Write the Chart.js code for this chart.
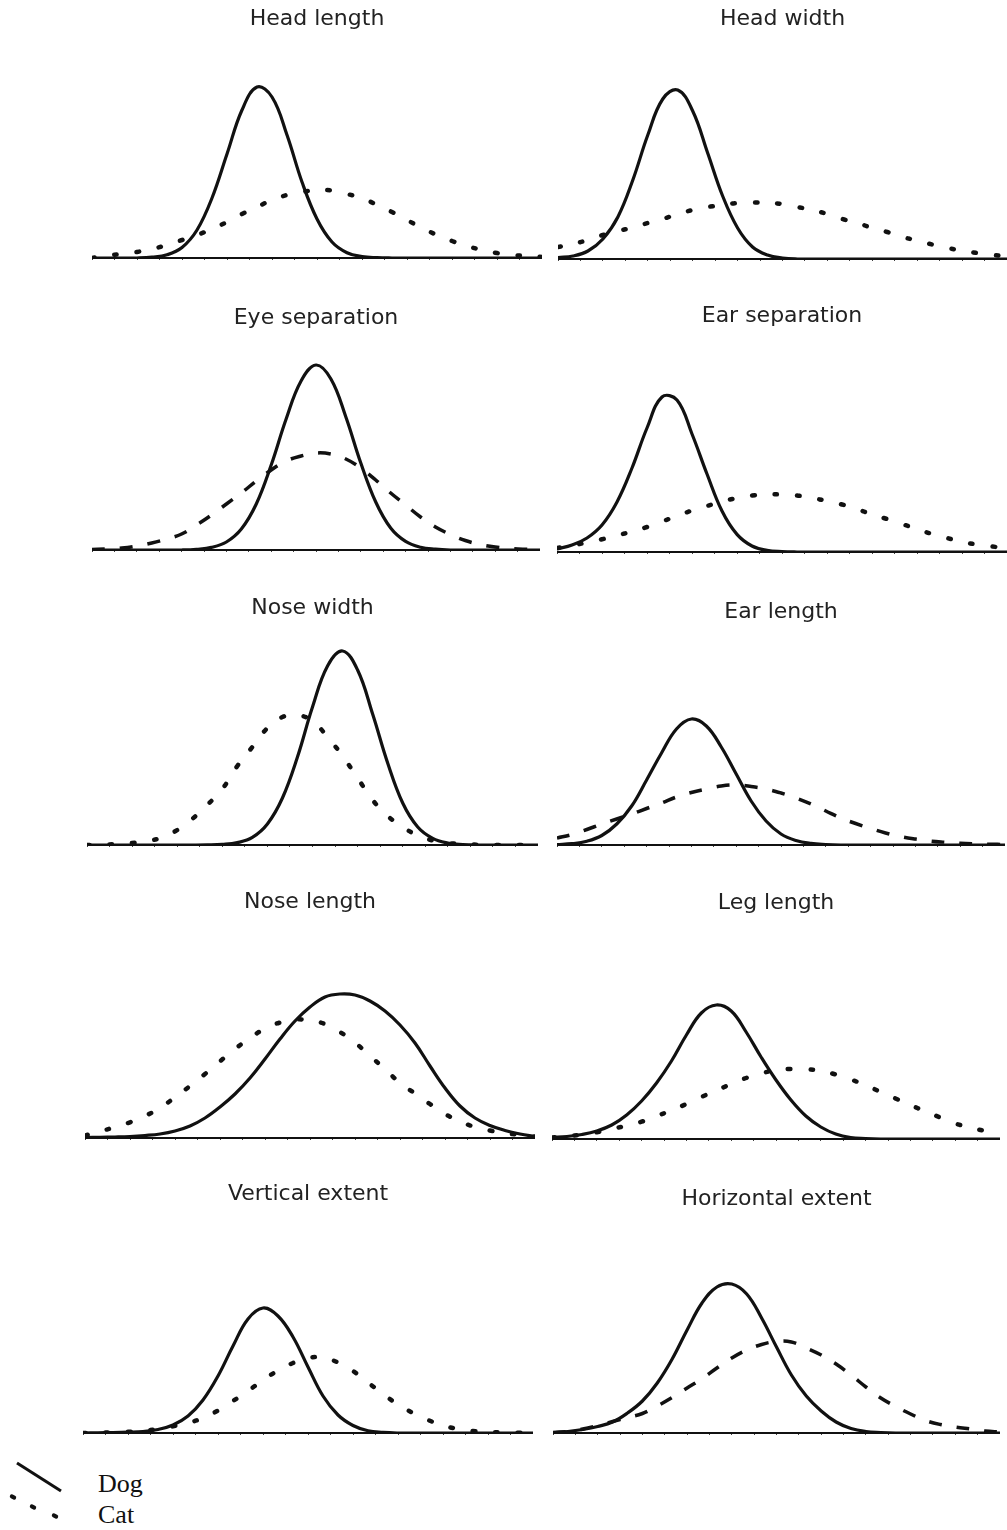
<!DOCTYPE html>
<html>
<head>
<meta charset="utf-8">
<title>Dog and cat feature distributions</title>
<script src="https://cdn.jsdelivr.net/npm/chart.js@4.4.1/dist/chart.umd.min.js"></script>
<style>
  html, body { margin: 0; padding: 0; background: #fff; }
  #page { position: relative; width: 1007px; height: 1530px; overflow: hidden; background: #fff; }
  #page canvas { position: absolute; }
  .key { position: absolute; left: 98px; font: 26px "Liberation Serif", "Times New Roman", serif; color: #111; line-height: 30px; }
</style>
</head>
<body>
<div id="page"></div>
<script>
// positions along each baseline (0 = left end, 30 = right end)
const steps = [0,1,2,3,4,5,6,7,8,9,10,11,12,13,14,15,16,17,18,19,20,21,22,23,24,25,26,27,28,29,30];

const titles = ['Head length', 'Head width', 'Eye separation', 'Ear separation', 'Nose width',
  'Ear length', 'Nose length', 'Leg length', 'Vertical extent', 'Horizontal extent'];

// curve heights, one value per step
const headLengthDog = [0,0,0,0,0.8,3.2,10.5,28,60,104,148,171,161,123,76,39,16,5.3,1.4,0.3,0,0,0,0,0,0,0,0,0,0,0];
const headLengthCat = [0,2.5,4,6,9,13,18,23,29,36,44,51,58,63,66,68,67.5,64,60,53,46,38,30,23,17,12,8,5,3,2,1];

const headWidthDog = [1.5,3,8,20,42,79,124,160,169,148,106,63,31,12,4,1,0,0,0,0,0,0,0,0,0,0,0,0,0,0,0];
const headWidthCat = [12,15,19,24,28,31.5,36,40,45,49,52,54,56,56.5,56,55,52,49,45,40,36,31,27,22,18.5,14.5,11,8.5,6,4,3];

const eyeSepDog = [0,0,0,0,0,0,0,0.7,2.6,8,21,46,85,131,169,185,171,133,87,48,22,8.6,2.8,0.8,0,0,0,0,0,0,0];
const eyeSepCat = [0.5,1,2,4,7,11,16,25,35,46,57,69,80,89,94,97,96,91,82,70,57,45,33,23,15.5,9.5,5.5,3,1.5,0.8,0.5];

const earSepDog = [3,7,14,27,50,84,124,155,152,118,78,41,17.6,6,1.7,0.4,0,0,0,0,0,0,0,0,0,0,0,0,0,0,0];
const earSepCat = [4,6.5,9.5,12.7,16.5,20.5,25,30.5,36,41.5,46,50.5,54,56.5,57.5,57.5,56.5,54,51,47.5,43,37.5,33,28,23,18,14,10,7.5,5.5,4];

const noseWidthDog = [0,0,0,0,0,0,0,0,0.1,0.6,2.4,7.6,21,47,88,138,179,194,175,131,82,42,18,6.6,2,0.5,0,0,0,0,0];
const noseWidthCat = [0,0.3,1,2,4,7.5,15,26,40,56,79,98,117,128,130,124,108,89,67,45,29,18,9.5,4.5,2,1,0.3,0,0,0,0];

const earLengthDog = [0.4,1.3,3.8,9.5,21,39,65,92,116,126,119,98,71,44,24,11,4.5,1.6,0.5,0,0,0,0,0,0,0,0,0,0,0,0];
const earLengthCat = [7,10.5,15.5,21,26,31,36.5,42,48,52.5,56,59,60,58.5,56,52,47,41,34,27,21.5,16.5,12,8.5,6,4,2.8,1.8,1.2,0.8,0.5];

const noseLengthDog = [0.5,0.7,1,1.5,2.5,4,7,12,20,31,44,60,79,99,117,131,141,144,143,137,127,113,95,72,50,32,20,12.5,7.5,4,1.5];
const noseLengthCat = [2.5,6.5,11,15.7,22,30,40.7,52,64,76.7,89,100,109.5,115.5,118.5,117.5,114,106,95.5,82,69,55,44.5,34,24,16.5,11,7.5,5,3,1.5];

const legLengthDog = [1.5,2.5,4.5,8,14,24,38,56,78,104,126,134,128,107,82,59,39,23,12,5,1.5,0.5,0,0,0,0,0,0,0,0,0];
const legLengthCat = [1.5,2.8,4.3,6.7,9.8,13.5,17.3,23,28.5,35,42,48.5,55,61,65.5,69,70,69.7,68.3,64.5,59.5,54,47,40.5,34,27.5,21.5,15.5,11.5,8,5];

const vertExtDog = [0,0.2,0.4,0.8,1.5,3.5,8,17,33,57,87,114,125,117,96,66,37,18,7.5,2.2,0.6,0,0,0,0,0,0,0,0,0,0];
const vertExtCat = [0,0.3,0.6,1.2,2.2,4,6.7,10,15,22.5,32,42,53,62.5,70,75,75.5,70.5,62,50.5,39,28.5,20,13,7.5,4,2,1,0.5,0.2,0];

const horizExtDog = [0.5,1.5,3.5,6.5,11,20,32,50,74,103,130,146,149,139,115,86,58,37,22,11,4.5,1.5,0.5,0,0,0,0,0,0,0,0];
const horizExtCat = [0.5,1.5,4,7.5,11.5,15.5,19.5,27,35.5,45,54.3,65,75,83,88.5,91.5,91,85,78,69,58,46,35,26.5,19,12.5,8.5,6,4,2,1];

const dogSeries = [headLengthDog, headWidthDog, eyeSepDog, earSepDog, noseWidthDog,
  earLengthDog, noseLengthDog, legLengthDog, vertExtDog, horizExtDog];
const catSeries = [headLengthCat, headWidthCat, eyeSepCat, earSepCat, noseWidthCat,
  earLengthCat, noseLengthCat, legLengthCat, vertExtCat, horizExtCat];
const catLook = ['dot', 'dot', 'dash', 'dot', 'dot', 'dash', 'dot', 'dot', 'dot', 'dash'];

// page layout: baseline left / right / y, and title centre y
const boxes = [
  { left: 92,  right: 542,  base: 257,  title: 19 },
  { left: 558, right: 1007, base: 258,  title: 19 },
  { left: 92,  right: 540,  base: 549,  title: 318 },
  { left: 557, right: 1007, base: 551,  title: 316 },
  { left: 87,  right: 538,  base: 844,  title: 608 },
  { left: 557, right: 1005, base: 844,  title: 612 },
  { left: 85,  right: 535,  base: 1137, title: 902 },
  { left: 552, right: 1000, base: 1138, title: 903 },
  { left: 83,  right: 533,  base: 1432, title: 1194 },
  { left: 553, right: 1000, base: 1432, title: 1199 }
];

const INK = '#111';
const page = document.getElementById('page');

function toPoints(values) {
  return values.map((v, i) => ({ x: steps[i], y: v }));
}

function catStyle(kind) {
  if (kind === 'dash') {
    return { borderWidth: 3.5, borderDash: [13, 15], borderCapStyle: 'butt' };
  }
  return { borderWidth: 4.5, borderDash: [2.5, 20], borderCapStyle: 'round' };
}

boxes.forEach((box, i) => {
  const canvas = document.createElement('canvas');
  const w = box.right - box.left;
  const h = box.base - box.title + 16;   // title line 26 + padding + plot 200 + ticks
  canvas.width = w;
  canvas.height = h;
  canvas.style.left = box.left + 'px';
  canvas.style.top = (box.title - 13) + 'px';
  page.appendChild(canvas);

  new Chart(canvas, {
    type: 'line',
    data: {
      datasets: [
        Object.assign({
          label: 'Cat',
          data: toPoints(catSeries[i]),
          borderColor: INK,
          fill: false
        }, catStyle(catLook[i])),
        {
          label: 'Dog',
          data: toPoints(dogSeries[i]),
          borderColor: INK,
          borderWidth: 3.2,
          fill: false
        }
      ]
    },
    options: {
      responsive: false,
      animation: false,
      events: [],
      layout: { padding: 0 },
      elements: {
        point: { radius: 0 },
        line: { tension: 0.4, capBezierPoints: true }
      },
      plugins: {
        legend: { display: false },
        tooltip: { enabled: false },
        title: {
          display: true,
          text: titles[i],
          color: '#222',
          font: { family: '"DejaVu Sans", "Liberation Sans", Arial, sans-serif', size: 22, weight: 'normal', lineHeight: '26px' },
          padding: { top: 0, bottom: h - 26 - 202 }
        }
      },
      scales: {
        x: {
          type: 'linear',
          min: 0,
          max: 30,
          ticks: { display: false, stepSize: 1.5 },
          grid: { drawOnChartArea: false, tickLength: 2, color: '#444', lineWidth: 1 },
          border: { color: INK, width: 2 }
        },
        y: { display: false, min: 0, max: 200 }
      }
    }
  });
});

// key in the bottom-left corner
const key = document.createElement('canvas');
key.width = 80;
key.height = 72;
key.style.left = '0px';
key.style.top = '1455px';
page.appendChild(key);
const g = key.getContext('2d');
g.strokeStyle = INK;
g.lineWidth = 3;
g.beginPath();
g.moveTo(17, 8);
g.lineTo(61, 36);
g.stroke();
g.lineWidth = 4;
g.lineCap = 'round';
[[13, 42], [33, 52], [55, 61]].forEach(([cx, cy]) => {
  g.beginPath();
  g.moveTo(cx - 1.2, cy - 0.6);
  g.lineTo(cx + 1.2, cy + 0.6);
  g.stroke();
});

const dogKey = document.createElement('div');
dogKey.className = 'key';
dogKey.style.top = '1469px';
dogKey.textContent = 'Dog';
page.appendChild(dogKey);

const catKey = document.createElement('div');
catKey.className = 'key';
catKey.style.top = '1500px';
catKey.textContent = 'Cat';
page.appendChild(catKey);
</script>
</body>
</html>
